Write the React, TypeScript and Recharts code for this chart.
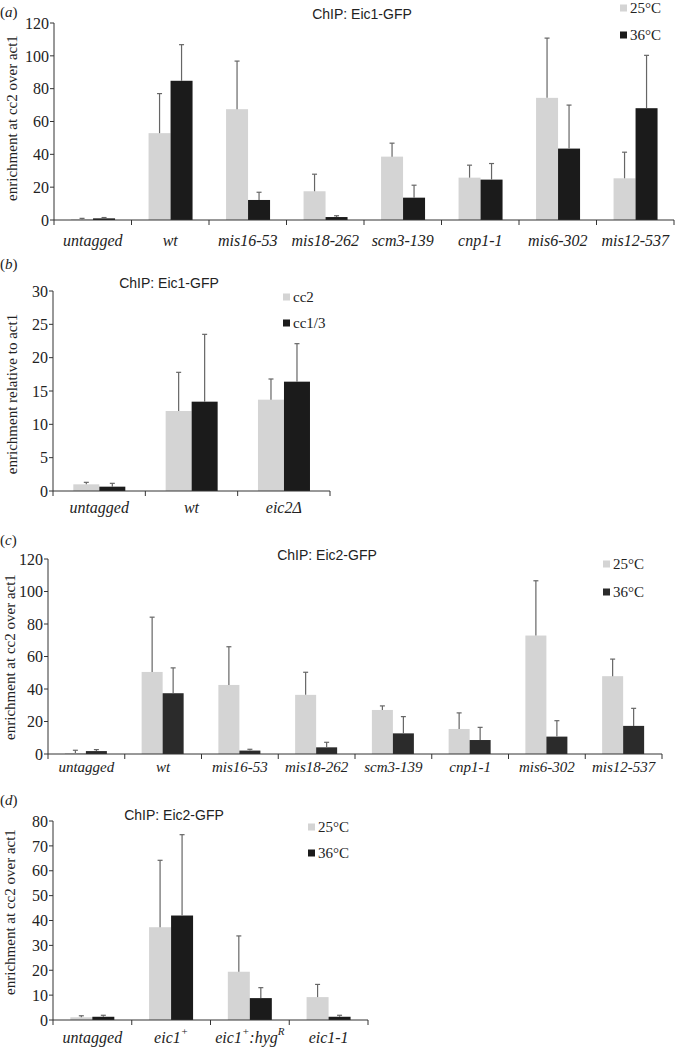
import { BarChart, Bar, XAxis, YAxis } from "recharts";

// panel (a) ChIP: Eic1-GFP, temperature shift
const catsA = ["untagged", "wt", "mis16-53", "mis18-262", "scm3-139", "cnp1-1", "mis6-302", "mis12-537"];
const a25 = [0.5, 52.9, 67.5, 17.5, 38.6, 25.8, 74.4, 25.4];
const a25Err = [0.5, 24.1, 29.3, 10.4, 8.2, 7.6, 36.4, 15.9];
const a36 = [1.0, 84.8, 12.2, 1.8, 13.6, 24.6, 43.5, 68.1];
const a36Err = [0.5, 22.0, 4.7, 0.8, 7.6, 9.8, 26.5, 32.2];

// panel (b) ChIP: Eic1-GFP, cc2 vs cc1/3
const catsB = ["untagged", "wt", "eic2Δ"];
const bCc2 = [1.0, 12.0, 13.7];
const bCc2Err = [0.3, 5.8, 3.1];
const bCc13 = [0.65, 13.4, 16.4];
const bCc13Err = [0.5, 10.1, 5.7];

// panel (c) ChIP: Eic2-GFP, temperature shift
const catsC = catsA;
const c25 = [0.6, 50.5, 42.5, 36.4, 27.1, 15.4, 72.9, 47.9];
const c25Err = [1.7, 33.7, 23.5, 13.9, 2.5, 9.9, 33.7, 10.5];
const c36 = [1.8, 37.4, 2.1, 4.1, 12.7, 8.6, 10.7, 17.3];
const c36Err = [0.9, 15.6, 0.8, 3.1, 10.3, 7.8, 9.8, 10.8];

// panel (d) ChIP: Eic2-GFP, eic1 alleles ("^" = superscript next char)
const catsD = ["untagged", "eic1^+", "eic1^+:hyg^R", "eic1-1"];
const d25 = [1.1, 37.3, 19.4, 9.2];
const d25Err = [0.6, 26.9, 14.4, 5.1];
const d36 = [1.3, 42.0, 8.8, 1.3];
const d36Err = [0.6, 32.5, 4.2, 0.6];

const LIGHT = "#d4d4d4";
const DARK = "#1b1b1b";
const DARK_C = "#2b2b2b";
const ERR = "#666";
const AXIS = "#333";
const SERIF = "'Liberation Serif', 'Times New Roman', serif";
const SANS = "'Liberation Sans', Arial, sans-serif";

const sup = (s: string) => {
  const out: any[] = [];
  let buf = "";
  for (let i = 0; i < s.length; i++) {
    if (s[i] === "^" && i + 1 < s.length) {
      if (buf) out.push(<tspan key={i + "n"}>{buf}</tspan>);
      buf = "";
      out.push(
        <tspan key={i + "s"} baselineShift="super" fontSize={11}>
          {s[i + 1]}
        </tspan>
      );
      i++;
    } else buf += s[i];
  }
  if (buf) out.push(<tspan key="end">{buf}</tspan>);
  return out;
};

const CatTick = (props: any) => {
  const { x, y, payload, index, visibleTicksCount, width, labelDy, labelSize } = props;
  const half = payload.offset ?? width / (2 * visibleTicksCount);
  return (
    <g>
      <line x1={x - half} x2={x - half} y1={y} y2={y + 5} stroke={AXIS} />
      {index === visibleTicksCount - 1 && <line x1={x + half} x2={x + half} y1={y} y2={y + 5} stroke={AXIS} />}
      <text x={x} y={y + labelDy} textAnchor="middle" dominantBaseline="central" fontFamily={SERIF} fontStyle="italic" fontSize={labelSize} fill="#222">
        {sup(payload.value)}
      </text>
    </g>
  );
};

const withError = (valKey: string, errKey: string) => (props: any) => {
  const { x, y, width, height, fill, payload } = props;
  const v = payload[valKey];
  const e = payload[errKey];
  const k = v ? height / v : 0;
  const cx = x + width / 2;
  const top = y - e * k;
  return (
    <g>
      <rect x={x} y={y} width={width} height={height} fill={fill} />
      <line x1={cx} x2={cx} y1={y} y2={top} stroke={ERR} strokeWidth={1.2} />
      <line x1={cx - 2.5} x2={cx + 2.5} y1={top} y2={top} stroke={ERR} strokeWidth={1.2} />
    </g>
  );
};

const build = (cats: string[], v1: number[], e1: number[], v2: number[], e2: number[]) =>
  cats.map((name, i) => ({ name, v1: v1[i], e1: e1[i], v2: v2[i], e2: e2[i] }));

type PanelProps = {
  top: number;
  width: number;
  height: number;
  margin: any;
  yWidth: number;
  xHeight: number;
  labelDy: number;
  labelSize: number;
  data: any[];
  max: number;
  ticks: number[];
  dark: string;
};

const Panel = ({ top, width, height, margin, yWidth, xHeight, labelDy, labelSize, data, max, ticks, dark }: PanelProps) => (
  <div style={{ position: "absolute", left: 0, top }}>
    <BarChart width={width} height={height} data={data} margin={margin} barGap={0} barCategoryGap="22%">
      <XAxis
        dataKey="name"
        height={xHeight}
        stroke={AXIS}
        tickLine={false}
        tickSize={0}
        tickMargin={0}
        interval={0}
        tick={(p: any) => <CatTick {...p} labelDy={labelDy} labelSize={labelSize} />}
      />
      <YAxis
        width={yWidth}
        domain={[0, max]}
        ticks={ticks}
        stroke={AXIS}
        tickSize={4}
        tickMargin={1}
        tick={{ fontFamily: SERIF, fontSize: 16, fill: "#222" }}
      />
      <Bar dataKey="v1" fill={LIGHT} shape={withError("v1", "e1")} isAnimationActive={false} />
      <Bar dataKey="v2" fill={dark} shape={withError("v2", "e2")} isAnimationActive={false} />
    </BarChart>
  </div>
);

const Txt = ({ x, y, children, size = 14, font = SERIF, anchor = "left" }: any) => (
  <div
    style={{
      position: "absolute",
      left: x,
      top: y,
      transform: anchor === "center" ? "translate(-50%, -50%)" : "translate(0, -50%)",
      fontFamily: font,
      fontSize: size,
      color: "#222",
      whiteSpace: "nowrap",
      lineHeight: 1,
    }}
  >
    {children}
  </div>
);

const YLabel = ({ x, y, text }: any) => (
  <div
    style={{
      position: "absolute",
      left: x,
      top: y,
      transform: "translate(-50%, -50%) rotate(-90deg)",
      fontFamily: SERIF,
      fontSize: 15,
      color: "#222",
      whiteSpace: "nowrap",
      lineHeight: 1,
    }}
  >
    {text}
  </div>
);

const LegendBox = ({ x, y, gap, items }: any) => (
  <>
    {items.map((it: any, i: number) => (
      <div key={it.name} style={{ position: "absolute", left: x, top: y + i * gap, transform: "translateY(-50%)", display: "flex", alignItems: "center" }}>
        <span style={{ display: "inline-block", width: 7, height: 7, background: it.color, marginRight: 3 }} />
        <span style={{ fontFamily: SERIF, fontSize: 15, color: "#222", lineHeight: 1 }}>{it.name}</span>
      </div>
    ))}
  </>
);

const PLetter = ({ y, l }: any) => (
  <Txt x={0} y={y} size={15}>
    (<i>{l}</i>)
  </Txt>
);

export default function App() {
  const dataA = build(catsA, a25, a25Err, a36, a36Err);
  const dataB = build(catsB, bCc2, bCc2Err, bCc13, bCc13Err);
  const dataC = build(catsC, c25, c25Err, c36, c36Err);
  const dataD = build(catsD, d25, d25Err, d36, d36Err);
  return (
    <div style={{ position: "absolute", left: 0, top: 0, width: 675, height: 1047, background: "#fff", overflow: "hidden" }}>
      <Panel top={0} width={675} height={255} margin={{ top: 23, right: 1, bottom: 5, left: 0 }} yWidth={54} xHeight={30} labelDy={20} labelSize={16}
        data={dataA} max={120} ticks={[0, 20, 40, 60, 80, 100, 120]} dark={DARK} />
      <Panel top={270} width={335} height={256} margin={{ top: 21, right: 5, bottom: 5, left: 0 }} yWidth={53} xHeight={30} labelDy={16} labelSize={16}
        data={dataB} max={30} ticks={[0, 5, 10, 15, 20, 25, 30]} dark={DARK} />
      <Panel top={530} width={675} height={256} margin={{ top: 29, right: 13, bottom: 4, left: 0 }} yWidth={48} xHeight={28} labelDy={13} labelSize={15}
        data={dataC} max={120} ticks={[0, 20, 40, 60, 80, 100, 120]} dark={DARK_C} />
      <Panel top={790} width={375} height={257} margin={{ top: 31, right: 7, bottom: 3, left: 0 }} yWidth={53} xHeight={24} labelDy={17} labelSize={16}
        data={dataD} max={80} ticks={[0, 10, 20, 30, 40, 50, 60, 70, 80]} dark={DARK} />

      <PLetter y={12} l="a" />
      <PLetter y={264} l="b" />
      <PLetter y={540} l="c" />
      <PLetter y={800} l="d" />

      <Txt x={362} y={14} font={SANS} anchor="center">ChIP: Eic1-GFP</Txt>
      <Txt x={169} y={283} font={SANS} anchor="center">ChIP: Eic1-GFP</Txt>
      <Txt x={327} y={555} font={SANS} anchor="center">ChIP: Eic2-GFP</Txt>
      <Txt x={174} y={815} font={SANS} anchor="center">ChIP: Eic2-GFP</Txt>

      <YLabel x={12} y={118} text="enrichment at cc2 over act1" />
      <YLabel x={12} y={394} text="enrichment relative to act1" />
      <YLabel x={10} y={657} text="enrichment at cc2 over act1" />
      <YLabel x={10} y={912} text="enrichment at cc2 over act1" />

      <LegendBox x={620} y={8} gap={27} items={[{ name: "25°C", color: LIGHT }, { name: "36°C", color: DARK }]} />
      <LegendBox x={283} y={297} gap={26} items={[{ name: "cc2", color: LIGHT }, { name: "cc1/3", color: DARK }]} />
      <LegendBox x={603} y={564} gap={28} items={[{ name: "25°C", color: LIGHT }, { name: "36°C", color: DARK_C }]} />
      <LegendBox x={308} y={827} gap={26} items={[{ name: "25°C", color: LIGHT }, { name: "36°C", color: DARK }]} />
    </div>
  );
}
